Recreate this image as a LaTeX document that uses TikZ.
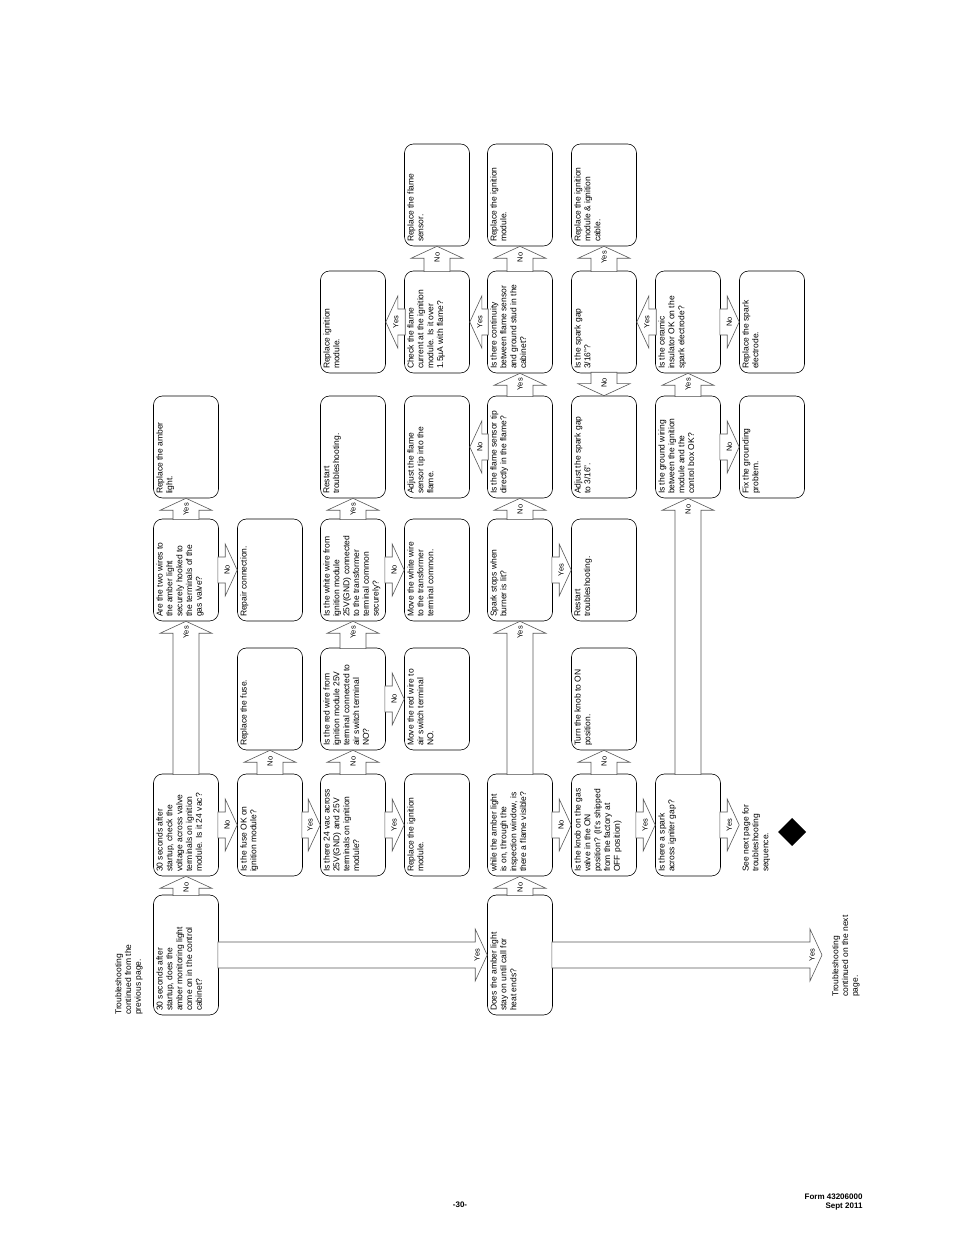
\documentclass[tikz,border=0pt]{standalone}
\usepackage{fontspec}
\setmainfont{Liberation Sans}
\usetikzlibrary{calc}

% text block inside a rotated box
\newcommand{\bt}[2][94pt]{\parbox[c][59pt][t]{#1}{\raggedright #2}}
% block arrows between named boxes
\newcommand{\arup}[3]{\draw[barrow] let \p1=(#1.east), \p2=(#2.west) in
  (\x1-13,\y1-1) -- (\x1-13,\y2-12) -- (\x1-26,\y2-12) -- (\x1,\y2) -- (\x1+26,\y2-12) -- (\x1+13,\y2-12) -- (\x1+13,\y1-1) -- cycle
  (\x1,\y2-11) node[lbl] {#3};}
\newcommand{\ardown}[3]{\draw[barrow] let \p1=(#1.west), \p2=(#2.east) in
  (\x1-13,\y1+1) -- (\x1-13,\y2+12) -- (\x1-26,\y2+12) -- (\x1,\y2) -- (\x1+26,\y2+12) -- (\x1+13,\y2+12) -- (\x1+13,\y1+1) -- cycle
  (\x1,\y2+13) node[lbl] {#3};}
\newcommand{\arright}[3]{\draw[barrow] let \p1=(#1.south), \p2=(#2.north) in
  (\x1-1,\y1+13) -- (\x2-12,\y1+13) -- (\x2-12,\y1+26) -- (\x2,\y1) -- (\x2-12,\y1-26) -- (\x2-12,\y1-13) -- (\x1-1,\y1-13) -- cycle
  (\x2-10,\y1) node[lbl] {#3};}
\newcommand{\arleft}[3]{\draw[barrow] let \p1=(#1.north), \p2=(#2.south) in
  (\x1+1,\y1+13) -- (\x2+12,\y1+13) -- (\x2+12,\y1+26) -- (\x2,\y1) -- (\x2+12,\y1-26) -- (\x2+12,\y1-13) -- (\x1+1,\y1-13) -- cycle
  (\x2+10,\y1) node[lbl] {#3};}

\begin{document}
\begin{tikzpicture}[x=1pt, y=1pt,
    box/.style={draw, fill=white, rotate=90, rounded corners=9pt, line width=0.6pt,
      minimum width=102pt, minimum height=65pt, inner sep=0pt,
      font=\fontsize{8.5}{9.8}\selectfont},
    boxlong/.style={box, minimum width=120pt},
    plain/.style={rotate=90, align=left, inner sep=0pt, font=\fontsize{8.5}{9.8}\selectfont},
    barrow/.style={draw=black!65, fill=white, line width=0.6pt, line join=miter},
    lbl/.style={rotate=90, inner sep=0pt, font=\fontsize{7.5}{8}\selectfont}]
    \useasboundingbox (0,0) rectangle (954,1235);
    % column A
    \node[boxlong] (A1) at (186,280) {\bt[112pt]{30 seconds after\\startup, does the\\amber monitoring light\\come on in the control\\cabinet?}};
    \node[box] (A2) at (186,410) {\bt{30 seconds after\\startup, check the\\voltage across valve\\terminals on ignition\\module. Is it 24 vac?}};
    \node[box] (A4) at (186,665) {\bt{Are the two wires to\\the amber light\\securely hooked to\\the terminals of the\\gas valve?}};
    \node[box] (A5) at (186,788) {\bt{Replace the amber\\light.}};
    % column B
    \node[box] (B2) at (270,410) {\bt{Is the fuse OK on\\ignition module?}};
    \node[box] (B3) at (270,536) {\bt{Replace the fuse.}};
    \node[box] (B4) at (270,665) {\bt{Repair connection.}};
    % column C
    \node[box] (C2) at (353,410) {\bt{Is there 24 vac across\\25V(GND) and 25V\\terminals on ignition\\module?}};
    \node[box] (C3) at (353,536) {\bt{Is the red wire from\\ignition module 25V\\terminal connected to\\air switch terminal\\NO?}};
    \node[box] (C4) at (353,665) {\bt{Is the white wire from\\ignition module\\25V(GND) connected\\to the transformer\\terminal common\\securely?}};
    \node[box] (C5) at (353,788) {\bt{Restart\\troubleshooting.}};
    \node[box] (C6) at (353,913) {\bt{Replace ignition\\module.}};
    % column D
    \node[box] (D2) at (437,410) {\bt{Replace the ignition\\module.}};
    \node[box] (D3) at (437,536) {\bt{Move the red wire to\\air switch terminal\\NO.}};
    \node[box] (D4) at (437,665) {\bt{Move the white wire\\to the transformer\\terminal common.}};
    \node[box] (D5) at (437,788) {\bt{Adjust the flame\\sensor tip into the\\flame.}};
    \node[box] (D6) at (437,913) {\bt{Check the flame\\current at the ignition\\module. Is it over\\1.5µA with flame?}};
    \node[box] (D7) at (437,1040) {\bt{Replace the flame\\sensor.}};
    % column E
    \node[boxlong] (E1) at (520,280) {\bt[112pt]{Does the amber light\\stay on until call for\\heat ends?}};
    \node[box] (E2) at (520,410) {\bt{while the amber light\\is on, through the\\inspection window, is\\there a flame visible?}};
    \node[box] (E4) at (520,665) {\bt{Spark stops when\\burner is lit?}};
    \node[box] (E5) at (520,788) {\bt{Is the flame sensor tip\\directly in the flame?}};
    \node[box] (E6) at (520,913) {\bt{Is there continuity\\between flame sensor\\and ground stud in the\\cabinet?}};
    \node[box] (E7) at (520,1040) {\bt{Replace the ignition\\module.}};
    % column F
    \node[box] (F2) at (604,410) {\bt{Is the knob on the gas\\valve in the ON\\position? (It's shipped\\from the factory at\\OFF position)}};
    \node[box] (F3) at (604,536) {\bt{Turn the knob to ON\\position.}};
    \node[box] (F4) at (604,665) {\bt{Restart\\troubleshooting.}};
    \node[box] (F5) at (604,788) {\bt{Adjust the spark gap\\to 3/16''.}};
    \node[box] (F6) at (604,913) {\bt{Is the spark gap\\3/16''?}};
    \node[box] (F7) at (604,1040) {\bt{Replace the ignition\\module \& ignition\\cable.}};
    % column G
    \node[box] (G2) at (688,410) {\bt{Is there a spark\\across igniter gap?}};
    \node[box] (G5) at (688,788) {\bt{Is the ground wiring\\between the ignition\\module and the\\control box OK?}};
    \node[box] (G6) at (688,913) {\bt{Is the ceramic\\insulator OK on the\\spark electrode?}};
    % column H
    \node[box, draw=none] (H2) at (772,410) {\bt{See next page for\\troubleshooting\\sequence.}};
    \node[box] (H5) at (772,788) {\bt{Fix the grounding\\problem.}};
    \node[box] (H6) at (772,913) {\bt{Replace the spark\\electrode.}};
    \fill (792,389) -- (806,403) -- (792,417) -- (778,403) -- cycle;
    % page notes
    \node[plain, anchor=north west] (prev) at (115,220) {Troubleshooting\\continued from the\\previous page.};
    \node[plain, anchor=north west] (next) at (832,238) {Troubleshooting\\continued on the next\\page.};
    \node[inner sep=0pt, minimum size=0pt] (nextpg) at (822,280) {};
    \node[font=\fontsize{8}{9}\selectfont\bfseries] (pg) at (460,30) {-30-};
    \node[font=\fontsize{8}{9}\selectfont\bfseries, align=right, anchor=east] (form) at (866,33) {Form 43206000\\Sept 2011};
    % arrows
    \arup{A1}{A2}{No}
    \arright{A1}{E1}{Yes}
    \arright{A2}{B2}{No}
    \arup{A2}{A4}{Yes}
    \arup{A4}{A5}{Yes}
    \arright{A4}{B4}{No}
    \arup{B2}{B3}{No}
    \arright{B2}{C2}{Yes}
    \arup{C2}{C3}{No}
    \arright{C2}{D2}{Yes}
    \arup{C3}{C4}{Yes}
    \arright{C3}{D3}{No}
    \arup{C4}{C5}{Yes}
    \arright{C4}{D4}{No}
    \arup{D6}{D7}{No}
    \arleft{D6}{C6}{Yes}
    \arright{E1}{nextpg}{Yes}
    \arup{E1}{E2}{No}
    \arright{E2}{F2}{No}
    \arup{E2}{E4}{Yes}
    \arup{E4}{E5}{No}
    \arright{E4}{F4}{Yes}
    \arleft{E5}{D5}{No}
    \arup{E5}{E6}{Yes}
    \arleft{E6}{D6}{Yes}
    \arup{E6}{E7}{No}
    \arup{F2}{F3}{No}
    \arright{F2}{G2}{Yes}
    \ardown{F6}{F5}{No}
    \arup{F6}{F7}{Yes}
    \arright{G2}{H2}{Yes}
    \arup{G2}{G5}{No}
    \arup{G5}{G6}{Yes}
    \arright{G5}{H5}{No}
    \arleft{G6}{F6}{Yes}
    \arright{G6}{H6}{No}
\end{tikzpicture}
\end{document}
